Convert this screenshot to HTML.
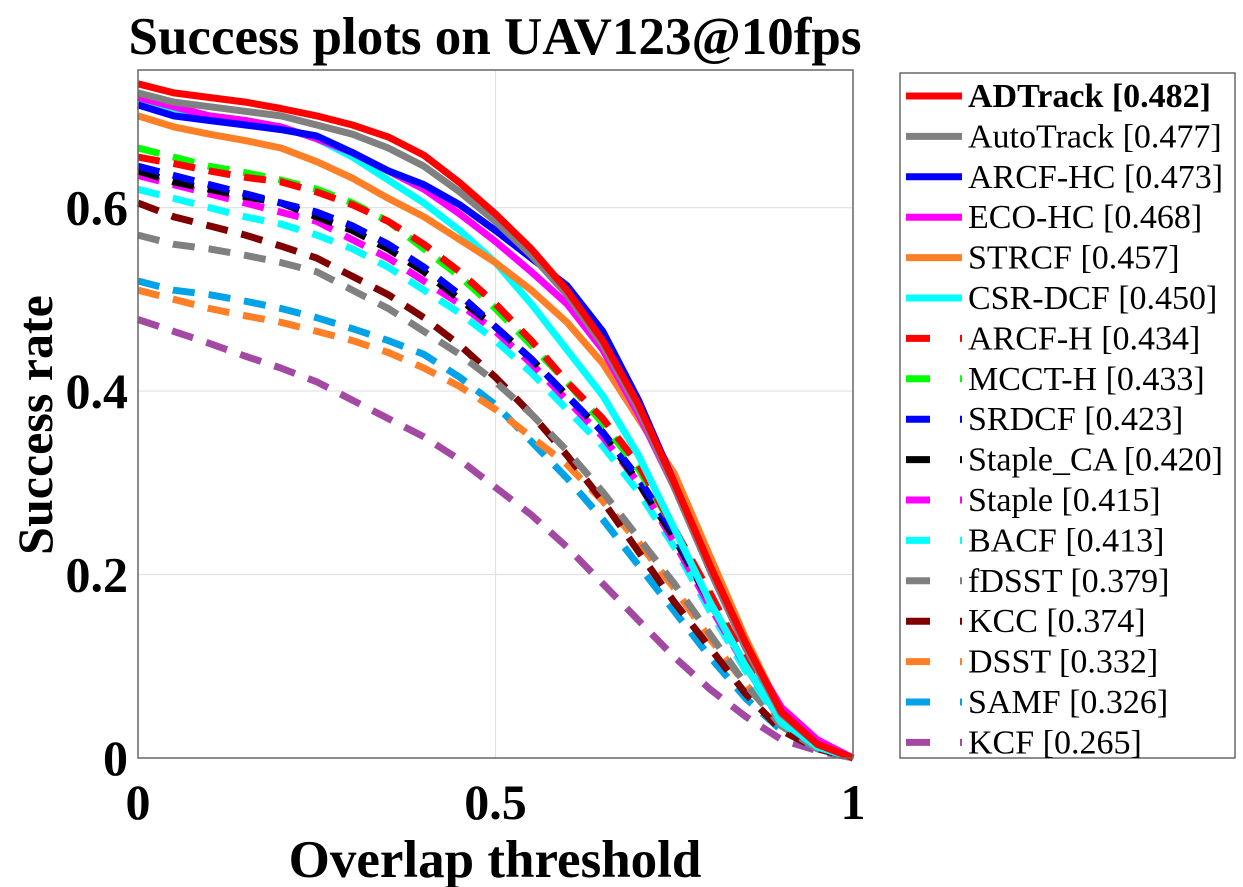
<!DOCTYPE html>
<html><head><meta charset="utf-8"><style>
body{margin:0;background:#fff;}
svg{display:block;font-family:"Liberation Serif",serif;}
</style></head><body>
<svg id="chart" width="1243" height="887" viewBox="0 0 1243 887" xmlns="http://www.w3.org/2000/svg">
<text x="495" y="54" text-anchor="middle" font-size="53" font-weight="bold">Success plots on UAV123@10fps</text>
<g id="grid"></g>
<g id="series" clip-path="url(#clip)"></g>
<defs><clipPath id="clip"><rect x="130" y="60" width="730" height="705"/></clipPath></defs>
<rect x="138" y="70" width="715" height="688" fill="none" stroke="#666" stroke-width="1.5"/>
<g id="ticks"></g>
<text x="495" y="877" text-anchor="middle" font-size="53" font-weight="bold">Overlap threshold</text>
<text transform="translate(52,425) rotate(-90)" text-anchor="middle" font-size="50" font-weight="bold">Success rate</text>
<rect x="900" y="73" width="335" height="685" fill="#fff" stroke="#444" stroke-width="1.2"/>
<g id="legend"></g>
</svg>
<script>
const thresholds=[0,0.05,0.1,0.15,0.2,0.25,0.3,0.35,0.4,0.45,0.5,0.55,0.6,0.65,0.7,0.75,0.8,0.85,0.9,0.95,1];
const names=["ADTrack [0.482]","AutoTrack [0.477]","ARCF-HC [0.473]","ECO-HC [0.468]","STRCF [0.457]","CSR-DCF [0.450]","ARCF-H [0.434]","MCCT-H [0.433]","SRDCF [0.423]","Staple_CA [0.420]","Staple [0.415]","BACF [0.413]","fDSST [0.379]","KCC [0.374]","DSST [0.332]","SAMF [0.326]","KCF [0.265]"];
const colors=["#ff0000","#808080","#0000ff","#ff00ff","#ff7f27","#00ffff","#ff0000","#00ff00","#0000ff","#000000","#ff00ff","#00ffff","#808080","#800000","#ff7f27","#00a2e8","#a349a4"];
const dashed=[false,false,false,false,false,false,true,true,true,true,true,true,true,true,true,true,true];
const sADTrack=[0.735,0.725,0.72,0.715,0.708,0.70,0.69,0.677,0.657,0.627,0.593,0.555,0.51,0.455,0.385,0.30,0.21,0.125,0.05,0.015,0];
const sAutoTrack=[0.725,0.715,0.71,0.705,0.70,0.69,0.68,0.665,0.645,0.617,0.585,0.548,0.505,0.45,0.38,0.295,0.205,0.12,0.048,0.015,0];
const sARCFHC=[0.712,0.70,0.695,0.69,0.685,0.678,0.66,0.64,0.625,0.603,0.575,0.545,0.515,0.465,0.39,0.30,0.205,0.12,0.05,0.015,0];
const sECOHC=[0.72,0.71,0.70,0.695,0.688,0.675,0.66,0.64,0.62,0.593,0.563,0.53,0.495,0.445,0.375,0.295,0.205,0.12,0.055,0.02,0];
const sSTRCF=[0.70,0.688,0.68,0.673,0.665,0.65,0.632,0.61,0.59,0.565,0.54,0.51,0.475,0.43,0.37,0.31,0.22,0.13,0.05,0.015,0];
const sCSRDCF=[0.72,0.708,0.70,0.695,0.688,0.675,0.655,0.63,0.605,0.575,0.54,0.495,0.445,0.395,0.33,0.25,0.17,0.10,0.04,0.012,0];
const sARCFH=[0.655,0.648,0.64,0.633,0.628,0.617,0.603,0.585,0.56,0.53,0.495,0.455,0.41,0.37,0.32,0.25,0.18,0.105,0.04,0.012,0];
const sMCCTH=[0.665,0.655,0.645,0.638,0.63,0.62,0.605,0.585,0.555,0.525,0.49,0.45,0.41,0.365,0.315,0.25,0.175,0.10,0.04,0.012,0];
const sSRDCF=[0.645,0.635,0.625,0.615,0.605,0.595,0.58,0.56,0.535,0.505,0.47,0.435,0.395,0.355,0.305,0.245,0.17,0.10,0.04,0.012,0];
const sStapleCA=[0.64,0.628,0.62,0.612,0.605,0.59,0.575,0.555,0.53,0.50,0.47,0.435,0.395,0.355,0.30,0.24,0.17,0.10,0.04,0.012,0];
const sStaple=[0.635,0.625,0.615,0.605,0.595,0.585,0.565,0.545,0.52,0.495,0.465,0.43,0.39,0.35,0.30,0.235,0.165,0.10,0.04,0.012,0];
const sBACF=[0.62,0.61,0.60,0.59,0.582,0.57,0.555,0.535,0.51,0.485,0.455,0.42,0.38,0.34,0.29,0.23,0.16,0.095,0.038,0.012,0];
const sfDSST=[0.57,0.56,0.555,0.548,0.54,0.53,0.51,0.49,0.465,0.44,0.41,0.375,0.335,0.29,0.24,0.19,0.135,0.08,0.035,0.01,0];
const sKCC=[0.605,0.59,0.58,0.57,0.558,0.545,0.525,0.505,0.48,0.45,0.415,0.375,0.33,0.28,0.225,0.17,0.12,0.07,0.03,0.01,0];
const sDSST=[0.51,0.50,0.49,0.482,0.475,0.465,0.455,0.442,0.425,0.405,0.38,0.35,0.32,0.28,0.235,0.185,0.13,0.08,0.035,0.01,0];
const sSAMF=[0.52,0.51,0.505,0.498,0.49,0.48,0.468,0.455,0.44,0.415,0.385,0.345,0.305,0.26,0.21,0.16,0.11,0.065,0.03,0.01,0];
const sKCF=[0.478,0.465,0.452,0.438,0.425,0.41,0.39,0.37,0.35,0.325,0.295,0.265,0.23,0.19,0.15,0.11,0.075,0.045,0.02,0.008,0];
const seriesValues=[sADTrack,sAutoTrack,sARCFHC,sECOHC,sSTRCF,sCSRDCF,sARCFH,sMCCTH,sSRDCF,sStapleCA,sStaple,sBACF,sfDSST,sKCC,sDSST,sSAMF,sKCF];
const xTicks=[0,0.5,1];
const xTickLabels=["0","0.5","1"];
const yTicks=[0,0.2,0.4,0.6];
const yTickLabels=["0","0.2","0.4","0.6"];

const NS="http://www.w3.org/2000/svg";
const X0=138,X1=853,Y0=758,YMAX=0.75,YTOP=70;
function xs(v){return X0+(X1-X0)*v;}
function ys(v){return Y0-(Y0-YTOP)*v/YMAX;}
function mk(tag,attrs,parent){const e=document.createElementNS(NS,tag);for(const k in attrs)e.setAttribute(k,attrs[k]);parent.appendChild(e);return e;}
const grid=document.getElementById('grid'),ticks=document.getElementById('ticks');
xTicks.forEach((t,i)=>{
  if(t>0&&t<1){const g=mk('line',{x1:xs(t),x2:xs(t),y1:YTOP,y2:Y0,stroke:'#e2e2e2','stroke-width':1.2},grid);
  
  }
  const tl=mk('text',{x:xs(t),y:819,'text-anchor':'middle','font-size':50,'font-weight':'bold'},ticks);
  tl.textContent=xTickLabels[i];
  
  
});
yTicks.forEach((t,i)=>{
  if(t>0){const g=mk('line',{x1:X0,x2:X1,y1:ys(t),y2:ys(t),stroke:'#e2e2e2','stroke-width':1.2},grid);
  
  }
  const tl=mk('text',{x:128,y:ys(t)+17,'text-anchor':'end','font-size':50,'font-weight':'bold'},ticks);
  tl.textContent=yTickLabels[i];
  
  
});
const sg=document.getElementById('series'),lg=document.getElementById('legend');
for(let i=seriesValues.length-1;i>=0;i--){
  const pts=seriesValues[i].map((v,j)=>xs(thresholds[j]).toFixed(1)+','+ys(v).toFixed(1)).join(' ');
  const a={points:pts,fill:'none',stroke:colors[i],'stroke-width':7,'stroke-linejoin':'round'};
  if(dashed[i])a['stroke-dasharray']='22 14';
  const p=mk('polyline',a,sg);
  
  
}
names.forEach((n,i)=>{
  const y=96+i*40.4;
  const la={x1:906,x2:962,y1:y,y2:y,stroke:colors[i],'stroke-width':7};
  if(dashed[i])la['stroke-dasharray']='24 30 2 10';
  const l=mk('line',la,lg);
  
  
  const t=mk('text',{x:968,y:y+11,'font-size':34,'font-weight':i==0?'bold':'normal'},lg);
  t.textContent=n;
  
  
});
</script>
</body></html>
